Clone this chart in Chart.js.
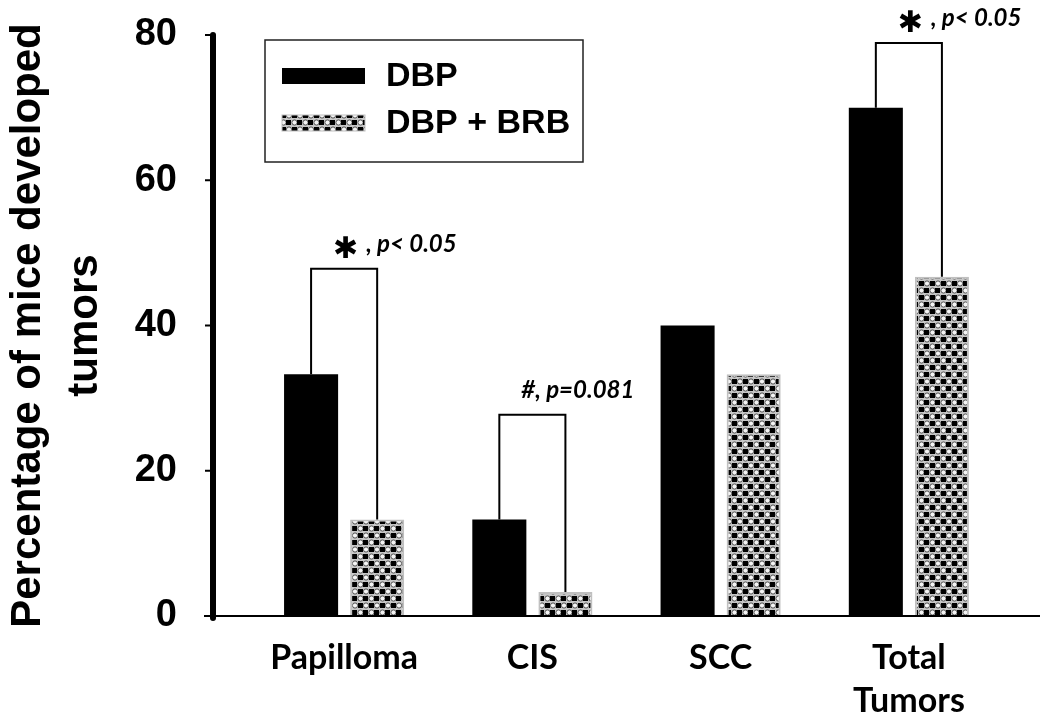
<!DOCTYPE html>
<html>
<head>
<meta charset="utf-8">
<script src="https://cdn.jsdelivr.net/npm/chart.js@4.4.1/dist/chart.umd.min.js"></script>
<style>
  html, body { margin: 0; padding: 0; background: #fff; }
  #wrap { width: 1050px; height: 713px; position: relative; }
</style>
</head>
<body>
<div id="wrap"><canvas id="myChart"></canvas></div>
<script>
// data
const categories = ["Papilloma", "CIS", "SCC", ["Total", "Tumors"]];
const seriesLabels = ["DBP", "DBP + BRB"];
const dbpValues = [33.3, 13.3, 40, 70];
const brbValues = [13.3, 3.3, 33.3, 46.7];
const yTicks = [0, 20, 40, 60, 80];

// significance brackets: category index, bracket height (in %), mark, text
const bracketIndex = [0, 1, 3];
const bracketTop = [47.8, 27.7, 78.9];
const bracketMark = ["\u2731", "", "\u2731"];
const bracketText = [", p< 0.05", "#, p=0.081", ", p< 0.05"];

// checker / bubble fill used for the DBP + BRB bars
function makePattern() {
  const c = document.createElement("canvas");
  c.width = 11;
  c.height = 14;
  const g = c.getContext("2d");
  g.fillStyle = "#c6c6c6";
  g.fillRect(0, 0, 11, 14);
  g.fillStyle = "#000";
  g.fillRect(6, 1, 5, 5);
  g.fillRect(0, 8, 5, 5);
  const bubble = (x, y) => {
    g.beginPath();
    g.arc(x, y, 2.6, 0, Math.PI * 2);
    g.fillStyle = "#f4f4f4";
    g.fill();
    g.lineWidth = 1;
    g.strokeStyle = "#555";
    g.stroke();
  };
  bubble(3, 3.5);
  bubble(8.5, 10.5);
  return g.createPattern(c, "repeat");
}
const brbPattern = makePattern();

// axes lines, y tick marks, brackets and the boxed legend
const Overlay = {
  id: "overlay",
  afterDatasetsDraw(chart) {
    const ctx = chart.ctx;
    const y = chart.scales.y;
    const axisX = chart.chartArea.left - 37;
    const y0 = y.getPixelForValue(0);

    ctx.save();
    ctx.strokeStyle = "#000";

    // x axis
    ctx.lineWidth = 2;
    ctx.beginPath();
    ctx.moveTo(axisX - 9, y0);
    ctx.lineTo(chart.chartArea.right + 37, y0);
    ctx.stroke();

    // y tick marks
    yTicks.forEach((v) => {
      const py = y.getPixelForValue(v);
      ctx.beginPath();
      ctx.moveTo(axisX - 8, py);
      ctx.lineTo(axisX, py);
      ctx.stroke();
    });

    // y axis
    ctx.lineWidth = 6;
    ctx.lineCap = "round";
    ctx.beginPath();
    ctx.moveTo(axisX, y.getPixelForValue(80));
    ctx.lineTo(axisX, y0 + 2);
    ctx.stroke();
    ctx.lineCap = "butt";

    // brackets
    const m0 = chart.getDatasetMeta(0).data;
    const m1 = chart.getDatasetMeta(1).data;
    ctx.lineWidth = 2;
    bracketIndex.forEach((idx, k) => {
      const left = m0[idx];
      const right = m1[idx];
      const top = y.getPixelForValue(bracketTop[k]);
      ctx.beginPath();
      ctx.moveTo(left.x, left.y);
      ctx.lineTo(left.x, top);
      ctx.lineTo(right.x, top);
      ctx.lineTo(right.x, right.y);
      ctx.stroke();

      let tx = left.x + 22;
      const ty = top - 17;
      ctx.fillStyle = "#000";
      ctx.textBaseline = "alphabetic";
      ctx.textAlign = "left";
      if (bracketMark[k]) {
        ctx.font = "bold 30px 'DejaVu Sans'";
        ctx.fillText(bracketMark[k], tx, ty + 6);
        tx += ctx.measureText(bracketMark[k]).width + 8;
      }
      ctx.font = "italic bold 24px Lato";
      ctx.fillText(bracketText[k], tx, ty);
    });

    // legend box
    const lx = 265, ly = 40, lw = 318, lh = 122;
    ctx.lineWidth = 1.5;
    ctx.strokeStyle = "#222";
    ctx.strokeRect(lx, ly, lw, lh);
    chart.data.datasets.forEach((ds, i) => {
      const rowY = ly + 36 + i * 47;
      ctx.fillStyle = ds.backgroundColor;
      ctx.fillRect(lx + 17, rowY - 8, 83, 16);
      if (ds.borderWidth) {
        ctx.lineWidth = 1;
        ctx.strokeStyle = "#c0c0c0";
        ctx.strokeRect(lx + 17, rowY - 8, 83, 16);
      }
      ctx.fillStyle = "#000";
      ctx.font = "bold 34px 'Liberation Sans'";
      ctx.textBaseline = "middle";
      ctx.fillText(ds.label, lx + 121, rowY + 1);
    });
    ctx.restore();
  },
};

const ctx = document.getElementById("myChart");

new Chart(ctx, {
  type: "bar",
  data: {
    labels: categories,
    datasets: [
      {
        label: seriesLabels[0],
        data: dbpValues,
        backgroundColor: "#000000",
        borderWidth: 0,
      },
      {
        label: seriesLabels[1],
        data: brbValues,
        backgroundColor: brbPattern,
        borderColor: "#c0c0c0",
        borderWidth: 2,
      },
    ],
  },
  options: {
    responsive: true,
    maintainAspectRatio: false,
    animation: false,
    devicePixelRatio: 1,
    categoryPercentage: 0.702,
    barPercentage: 0.818,
    layout: { padding: { top: 35, right: 47, left: 0, bottom: 0 } },
    plugins: {
      legend: { display: false },
      tooltip: { enabled: false },
    },
    scales: {
      x: {
        grid: { display: false, drawTicks: false },
        border: { display: false },
        ticks: {
          color: "#000",
          padding: 20,
          font: { family: "Lato", size: 34, weight: "bold", lineHeight: 1.27 },
        },
        afterFit(scale) {
          scale.height = 97;
          scale.paddingLeft = 0;
          scale.paddingRight = 0;
        },
      },
      y: {
        min: 0,
        max: 80,
        grid: { display: false, drawTicks: false },
        border: { display: false },
        afterBuildTicks(scale) {
          scale.ticks = yTicks.map((v) => ({ value: v }));
        },
        ticks: {
          color: "#000",
          padding: 73,
          font: { family: "Liberation Sans", size: 38, weight: "bold" },
        },
        title: {
          display: true,
          text: ["Percentage of mice developed", "tumors"],
          color: "#000",
          padding: { top: 0, bottom: 0 },
          font: { family: "Liberation Sans", size: 42, weight: "bold", lineHeight: 57 / 42 },
        },
        afterFit(scale) {
          scale.width = 250;
          scale.paddingTop = 0;
          scale.paddingBottom = 0;
        },
      },
    },
  },
  plugins: [Overlay],
});
</script>
</body>
</html>
